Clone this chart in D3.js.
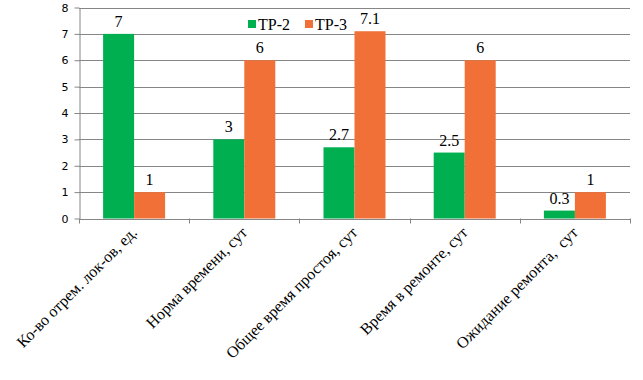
<!DOCTYPE html>
<html><head><meta charset="utf-8">
<script src="https://cdn.jsdelivr.net/npm/d3@7"></script>
<style>body{margin:0;background:#fff}svg{display:block}</style>
</head><body>
<svg id="c" width="643" height="380"></svg>
<script>
const categories = ["Ко-во отрем. лок-ов, ед.", "Норма времени, сут", "Общее время простоя, сут", "Время в ремонте, сут", "Ожидание ремонта,  сут"];
const seriesNames = ["ТР-2", "ТР-3"];
const tr2 = [7, 3, 2.7, 2.5, 0.3];
const tr3 = [1, 6, 7.1, 6, 1];
const yTicks = [0, 1, 2, 3, 4, 5, 6, 7, 8];
const colors = ["#00b050", "#f07038"];

const svg = d3.select("#c");
const L = 79, R = 630, T = 7.5, B = 218.5;
const x = d3.scaleBand().domain(categories).range([L, R]);
const y = d3.scaleLinear().domain([0, 8]).range([B, T]);
const barW = 31;
const inner = d3.scaleBand().domain(seriesNames).range([0, barW * 2]);
const off = (x.bandwidth() - barW * 2) / 2;

// gridlines
svg.append("g").selectAll("line").data(yTicks.filter(d => d > 0)).join("line")
  .attr("x1", L).attr("x2", R).attr("y1", d => Math.round(y(d)) + 0.5).attr("y2", d => Math.round(y(d)) + 0.5)
  .attr("stroke", "#868686").attr("stroke-width", 1);

const data = [tr2, tr3];
data.forEach((vals, si) => {
  svg.append("g").selectAll("rect").data(categories).join("rect")
    .attr("x", c => x(c) + off + inner(seriesNames[si]))
    .attr("width", inner.bandwidth())
    .attr("y", (c, i) => y(vals[i]))
    .attr("height", (c, i) => B - y(vals[i]))
    .attr("fill", colors[si]);
  svg.append("g").selectAll("text").data(categories).join("text")
    .attr("x", c => x(c) + off + inner(seriesNames[si]) + inner.bandwidth() / 2)
    .attr("y", (c, i) => y(vals[i]) - 7)
    .attr("text-anchor", "middle")
    .attr("font-family", "Liberation Serif, serif").attr("font-size", 16).attr("fill", "#000")
    .text((c, i) => vals[i]);
});

// y axis
const ya = svg.append("g").attr("transform", `translate(${L + 0.5},0)`)
  .call(d3.axisLeft(y).tickValues(yTicks).tickSize(5).tickSizeOuter(0).tickPadding(6).tickFormat(d3.format("d")));
ya.select(".domain").attr("stroke", "#868686");
ya.selectAll(".tick line").attr("stroke", "#868686");
ya.selectAll("text").attr("font-family", "DejaVu Sans, sans-serif").attr("font-size", 11).attr("fill", "#000");

// x axis
const xa = svg.append("g").attr("transform", `translate(0,${B + 0.5})`)
  .call(d3.axisBottom(x).tickSize(0).tickFormat(""));
xa.select(".domain").attr("stroke", "#868686");
const bounds = categories.map(c => x(c)).concat([R]);
svg.append("g").selectAll("line").data(bounds).join("line")
  .attr("x1", d => Math.round(d) + 0.5).attr("x2", d => Math.round(d) + 0.5)
  .attr("y1", B).attr("y2", B + 5).attr("stroke", "#868686");

svg.append("g").selectAll("text").data(categories).join("text")
  .attr("transform", c => `translate(${x(c) + x.bandwidth() / 2 + 4},${B + 15}) rotate(-45)`)
  .attr("text-anchor", "end")
  .attr("xml:space", "preserve").style("white-space", "pre")
  .attr("font-family", "Liberation Serif, serif").attr("font-size", 16).attr("fill", "#000")
  .text(c => c);

// legend
const lg = svg.append("g");
const lx = [248, 305];
seriesNames.forEach((s, i) => {
  lg.append("rect").attr("x", lx[i]).attr("y", 20).attr("width", 8).attr("height", 8).attr("fill", colors[i]);
  lg.append("text").attr("x", lx[i] + 10).attr("y", 29.5)
    .attr("font-family", "Liberation Serif, serif").attr("font-size", 16).attr("fill", "#000").text(s);
});
</script>
</body></html>
